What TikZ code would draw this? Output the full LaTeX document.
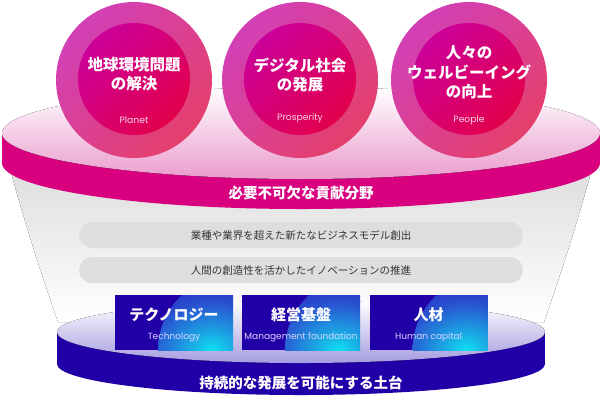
\documentclass[tikz,border=0pt]{standalone}
\usepackage{fontspec}
\newfontfamily\jp{Noto Sans CJK JP}
\newfontfamily\en{Poppins}
\definecolor{mag}{HTML}{D8007F}
\definecolor{magface}{HTML}{EA9CCD}
\definecolor{navy}{HTML}{2200A8}
\definecolor{navyface}{HTML}{A49CE0}
\definecolor{ringA}{HTML}{D240B6}
\definecolor{ringB}{HTML}{E47ABA}
\definecolor{ringC}{HTML}{E4406C}
\definecolor{coreA}{HTML}{CC0099}
\definecolor{coreB}{HTML}{E2004C}
\definecolor{barfill}{HTML}{DEDEDE}
\definecolor{bartext}{HTML}{333333}
\definecolor{funnel}{HTML}{DADADA}
\definecolor{glowmid}{HTML}{2A50D0}
\definecolor{glowcy}{HTML}{10E0F0}
\definecolor{subpink}{HTML}{F8D4E4}
\definecolor{subblue}{HTML}{D4D4FF}
\pgfdeclareradialshading{boxglow}{\pgfpoint{0bp}{0bp}}{color(0bp)=(glowcy); color(6bp)=(glowcy!60!glowmid); color(16bp)=(glowmid); color(32bp)=(navy); color(50bp)=(navy)}
\begin{document}
\begin{tikzpicture}[x=1pt,y=-1pt,
  outerc/.style={circle, minimum size=156pt, inner sep=0pt, top color=ringA, middle color=ringB!60!ringA, bottom color=ringC, shading angle=45},
  innerc/.style={circle, minimum size=112pt, inner sep=0pt, top color=coreA, bottom color=coreB, shading angle=45},
  ctitle/.style={align=center, text=white, font=\jp\bfseries\fontsize{15.5}{19.5}\selectfont},
  csub/.style={text=subpink, font=\en\fontsize{9.2}{11}\selectfont},
  bar/.style={rectangle, rounded corners=13pt, minimum width=444pt, minimum height=26pt, fill=barfill, text=bartext, font=\jp\fontsize{10.5}{12}\selectfont, inner sep=0pt},
  bluebox/.style={rectangle, minimum width=118pt, minimum height=55pt, inner sep=0pt, fill=navy,
    path picture={\shade[shading=boxglow] (path picture bounding box.south east) circle (75pt);}},
  btitle/.style={text=white, font=\jp\bfseries\fontsize{15}{17}\selectfont},
  bsub/.style={text=subblue, font=\en\fontsize{9}{11}\selectfont},
  bandlabel/.style={text=white, font=\jp\bfseries\fontsize{14.5}{16}\selectfont}]
\useasboundingbox (0,0) rectangle (601,400);
% funnel
\fill[top color=funnel, bottom color=white] (5,150) .. controls (22,215) and (40,270) .. (58,322) -- (544,322) .. controls (562,270) and (580,215) .. (597,150) -- cycle;
% lower disk
\fill[navy] (301,364) ellipse [x radius=244, y radius=31];
\fill[navy] (57,332) rectangle (545,364);
\fill[top color=white, bottom color=navyface] (301,332) ellipse [x radius=244, y radius=31];
% upper disk
\fill[mag] (301,163) ellipse [x radius=299, y radius=46];
\fill[mag] (2,133) rectangle (600,163);
\fill[top color=white, bottom color=magface] (301,133) ellipse [x radius=299, y radius=46];
% band labels
\node[bandlabel] (lab1) at (301,193) {必要不可欠な貢献分野};
\node[bandlabel] (lab2) at (301,383) {持続的な発展を可能にする土台};
% bars
\node[bar] (bar1) at (301,235) {業種や業界を超えた新たなビジネスモデル創出};
\node[bar] (bar2) at (301,270) {人間の創造性を活かしたイノベーションの推進};
% blue boxes
\node[bluebox] (box1) at (174,322.5) {};
\node[bluebox] (box2) at (301,322.5) {};
\node[bluebox] (box3) at (428.5,322.5) {};
\node[btitle] (b1t) at (174,315) {テクノロジー};
\node[bsub] (b1s) at (174,337) {Technology};
\node[btitle] (b2t) at (301,315) {経営基盤};
\node[bsub] (b2s) at (301,337) {Management foundation};
\node[btitle] (b3t) at (428.5,315) {人材};
\node[bsub] (b3s) at (428.5,337) {Human capital};
% circles
\node[outerc] (c1) at (134,80) {};
\node[innerc] (c1i) at (134,79) {};
\node[outerc] (c2) at (300,80) {};
\node[innerc] (c2i) at (300,79) {};
\node[outerc] (c3) at (469,80) {};
\node[innerc] (c3i) at (469,79) {};
\node[ctitle] (c1t) at (134,74) {地球環境問題\\の解決};
\node[csub] (c1s) at (134,120) {Planet};
\node[ctitle] (c2t) at (300,75) {デジタル社会\\の発展};
\node[csub] (c2s) at (300,118) {Prosperity};
\node[ctitle] (c3t) at (469,72.5) {人々の\\ウェルビーイング\\の向上};
\node[csub] (c3s) at (469,120) {People};
\end{tikzpicture}
\end{document}
